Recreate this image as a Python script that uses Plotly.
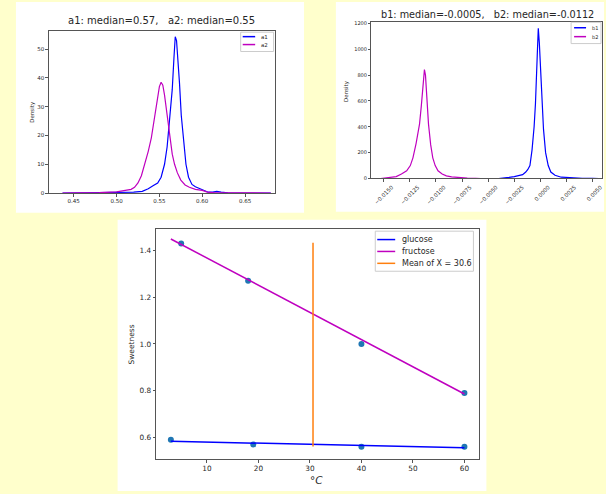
import plotly.graph_objects as go

W, H = 606, 494
BG = "#FFFFCC"
FONT = "DejaVu Sans"
TXT = "#262626"

# ---------------- Panel A (KDE of a1, a2) ----------------
a1_x = [0.437, 0.47, 0.50, 0.52, 0.53, 0.537, 0.543, 0.548, 0.552, 0.556, 0.559, 0.562,
        0.565, 0.567, 0.5685, 0.570, 0.572, 0.5735, 0.5755, 0.578, 0.581, 0.584, 0.588,
        0.592, 0.597, 0.602, 0.607, 0.612, 0.617, 0.622, 0.63, 0.65, 0.68]
a1_y = [0, 0.05, 0.1, 0.3, 0.6, 1.5, 2.6, 3.5, 5.5, 10, 16, 25,
        36, 47, 54.3, 53, 46, 38, 27, 18, 10, 5.5, 3,
        2.2, 1.6, 1.0, 0.3, 0.3, 0.6, 0.3, 0.1, 0.02, 0]
a2_x = [0.437, 0.46, 0.48, 0.50, 0.51, 0.517, 0.521, 0.525, 0.529, 0.533, 0.537, 0.5406,
        0.544, 0.547, 0.550, 0.552, 0.554, 0.556, 0.559, 0.5619, 0.565, 0.5677, 0.571,
        0.575, 0.580, 0.585, 0.592, 0.600, 0.606, 0.615, 0.63, 0.66, 0.68]
a2_y = [0, 0.05, 0.15, 0.4, 0.8, 1.3, 2, 3.5, 6, 10, 14.5, 19.2,
        26, 32, 37, 38.5, 37.5, 34, 27, 19.2, 13.5, 10, 7,
        4.5, 2.8, 2, 1.3, 0.9, 0.3, 0.1, 0.03, 0, 0]
a_title = "a1: median=0.57,   a2: median=0.55"
a_labels = ["a1", "a2"]
a_xticks = [0.45, 0.50, 0.55, 0.60, 0.65]
a_xticktext = ["0.45", "0.50", "0.55", "0.60", "0.65"]
a_yticks = [0, 10, 20, 30, 40, 50]

# ---------------- Panel B (KDE of b1, b2) ----------------
b1_x = [-0.0040, -0.0035, -0.0030, -0.0025, -0.0021, -0.0017, -0.0014, -0.0012, -0.0010,
        -0.0008, -0.0006, -0.00047, -0.0003, -0.0002, -0.0001, 0.00005, 0.00017, 0.0003,
        0.0005, 0.00075, 0.001, 0.0014, 0.002, 0.003, 0.004, 0.005, 0.0056]
b1_y = [0, 3, 8, 15, 20, 30, 50, 70, 100,
        220, 400, 581, 950, 1162, 1050, 800, 581, 380,
        200, 100, 50, 25, 10, 4, 2, 1, 0]
b2_x = [-0.0153, -0.0145, -0.0138, -0.0133, -0.0128, -0.01245, -0.0122, -0.0119, -0.01175,
        -0.01157, -0.0114, -0.0112, -0.0111, -0.0110, -0.01085, -0.01071, -0.0105, -0.0103,
        -0.01007, -0.0098, -0.0094, -0.0090, -0.0085, -0.0078, -0.0070, -0.0062, -0.0057]
b2_y = [0, 5, 15, 35, 60, 100, 160, 270, 340,
        421, 560, 760, 843, 800, 620, 421, 260, 160,
        100, 60, 35, 20, 12, 6, 3, 1, 0]
b_title = "b1: median=-0.0005,   b2: median=-0.0112"
b_labels = ["b1", "b2"]
b_xticks = [-0.015, -0.0125, -0.01, -0.0075, -0.005, -0.0025, 0.0, 0.0025, 0.005]
b_xticktext = ["\u22120.0150", "\u22120.0125", "\u22120.0100", "\u22120.0075", "\u22120.0050",
               "\u22120.0025", "0.0000", "0.0025", "0.0050"]
b_yticks = [0, 200, 400, 600, 800, 1000, 1200]

# ---------------- Panel C (sweetness vs temperature) ----------------
fructose_t = [5, 18, 40, 60]
fructose_s = [1.43, 1.27, 1.00, 0.79]
glucose_t = [3, 19, 40, 60]
glucose_s = [0.59, 0.57, 0.56, 0.56]
fit_t = [3, 60]
fit_fructose = [1.449, 0.786]
fit_glucose = [0.584, 0.556]
mean_t = 30.6
mean_span = [0.562, 1.433]
c_labels = ["glucose", "fructose", "Mean of X = 30.6"]
c_xticks = [10, 20, 30, 40, 50, 60]
c_yticks = [0.6, 0.8, 1.0, 1.2, 1.4]
c_yticktext = ["0.6", "0.8", "1.0", "1.2", "1.4"]

BLUE = "#0000FF"
MAG = "#BF00BF"
ORANGE = "#FF7F0E"
DOT = "#1F77B4"


def fx(px):
    return px / W


def fy(py):
    return 1 - py / H


fig = go.Figure()

# Panel A traces
fig.add_trace(go.Scatter(x=a1_x, y=a1_y, mode="lines", line=dict(color=BLUE, width=1.2),
                         xaxis="x", yaxis="y", showlegend=False))
fig.add_trace(go.Scatter(x=a2_x, y=a2_y, mode="lines", line=dict(color=MAG, width=1.2),
                         xaxis="x", yaxis="y", showlegend=False))
# Panel B traces
fig.add_trace(go.Scatter(x=b1_x, y=b1_y, mode="lines", line=dict(color=BLUE, width=1.2),
                         xaxis="x2", yaxis="y2", showlegend=False))
fig.add_trace(go.Scatter(x=b2_x, y=b2_y, mode="lines", line=dict(color=MAG, width=1.2),
                         xaxis="x2", yaxis="y2", showlegend=False))
# Panel C traces
fig.add_trace(go.Scatter(x=fructose_t + glucose_t, y=fructose_s + glucose_s, mode="markers",
                         marker=dict(color=DOT, size=6), xaxis="x3", yaxis="y3", showlegend=False))
fig.add_trace(go.Scatter(x=fit_t, y=fit_glucose, mode="lines", line=dict(color=BLUE, width=1.5),
                         xaxis="x3", yaxis="y3", showlegend=False))
fig.add_trace(go.Scatter(x=fit_t, y=fit_fructose, mode="lines", line=dict(color=MAG, width=1.5),
                         xaxis="x3", yaxis="y3", showlegend=False))
fig.add_trace(go.Scatter(x=[mean_t, mean_t], y=mean_span, mode="lines",
                         line=dict(color=ORANGE, width=1.5),
                         xaxis="x3", yaxis="y3", showlegend=False))

shapes = []
annotations = []

# white panel backgrounds
for (x0, y0, x1, y1) in [(16, 0, 305, 213), (337, 0, 606, 212), (118, 220, 488, 494)]:
    shapes.append(dict(type="rect", xref="paper", yref="paper", x0=fx(x0), x1=fx(x1),
                       y0=fy(y1), y1=fy(y0), fillcolor="white", line=dict(width=0),
                       layer="below"))


def add_legend(box, entries, fsize):
    x0, y0, x1, y1 = box
    shapes.append(dict(type="rect", xref="paper", yref="paper", x0=fx(x0), x1=fx(x1),
                       y0=fy(y1), y1=fy(y0), fillcolor="white",
                       line=dict(color="#CCCCCC", width=1), layer="above"))
    for label, color, ypx, lx0, lx1, tx in entries:
        shapes.append(dict(type="line", xref="paper", yref="paper", x0=fx(lx0), x1=fx(lx1),
                           y0=fy(ypx), y1=fy(ypx), line=dict(color=color, width=1.5),
                           layer="above"))
        annotations.append(dict(text=label, xref="paper", yref="paper", x=fx(tx), y=fy(ypx),
                                xanchor="left", yanchor="middle", showarrow=False,
                                font=dict(family=FONT, size=fsize, color=TXT)))


add_legend((241.5, 30.5, 274.5, 50), [(a_labels[0], BLUE, 35, 243.5, 256, 260),
                                      (a_labels[1], MAG, 43, 243.5, 256, 260)], 5.5)
add_legend((573, 20.5, 603, 42), [(b_labels[0], BLUE, 26, 576, 588, 592),
                                  (b_labels[1], MAG, 35, 576, 588, 592)], 5)
add_legend((376.5, 231.5, 475, 272), [(c_labels[0], BLUE, 240, 378.5, 396.5, 401),
                                      (c_labels[1], MAG, 252, 378.5, 396.5, 401),
                                      (c_labels[2], ORANGE, 264, 378.5, 396.5, 401)], 8)

# titles and axis labels
annotations.append(dict(text=a_title, xref="paper", yref="paper", x=fx(162.5), y=fy(19),
                        xanchor="center", yanchor="middle", showarrow=False,
                        font=dict(family=FONT, size=10, color=TXT)))
annotations.append(dict(text=b_title, xref="paper", yref="paper", x=fx(489), y=fy(12.5),
                        xanchor="center", yanchor="middle", showarrow=False,
                        font=dict(family=FONT, size=9.7, color=TXT)))
annotations.append(dict(text="Density", xref="paper", yref="paper", x=fx(33), y=fy(111),
                        xanchor="center", yanchor="middle", showarrow=False, textangle=-90,
                        font=dict(family=FONT, size=5.5, color=TXT)))
annotations.append(dict(text="Density", xref="paper", yref="paper", x=fx(347), y=fy(90),
                        xanchor="center", yanchor="middle", showarrow=False, textangle=-90,
                        font=dict(family=FONT, size=5.5, color=TXT)))
annotations.append(dict(text="Sweetness", xref="paper", yref="paper", x=fx(131.5), y=fy(346),
                        xanchor="center", yanchor="middle", showarrow=False, textangle=-90,
                        font=dict(family=FONT, size=7.5, color=TXT)))
annotations.append(dict(text="\u00b0<i>C</i>", xref="paper", yref="paper",
                        x=fx(318), y=fy(483), xanchor="center", yanchor="middle",
                        showarrow=False, font=dict(family=FONT, size=10.5, color=TXT)))

axcommon = dict(showgrid=False, zeroline=False, showline=True, linecolor="#555555",
                linewidth=1, mirror=True, ticks="outside", tickcolor="#555555", ticklen=2.5,
                tickwidth=0.8)

fig.update_layout(
    width=W, height=H,
    margin=dict(l=0, r=0, t=0, b=0),
    paper_bgcolor=BG, plot_bgcolor="white",
    showlegend=False,
    shapes=shapes, annotations=annotations,
    xaxis=dict(domain=[fx(49), fx(276)], anchor="y", range=[0.421, 0.685],
               tickvals=a_xticks, ticktext=a_xticktext,
               tickfont=dict(family=FONT, size=5.5, color=TXT), **axcommon),
    yaxis=dict(domain=[fy(193), fy(29)], anchor="x", range=[0, 56.4], tickvals=a_yticks,
               tickfont=dict(family=FONT, size=5.5, color=TXT), **axcommon),
    xaxis2=dict(domain=[fx(372.7), fx(604)], anchor="y2", range=[-0.01617, 0.0059],
                tickvals=b_xticks, ticktext=b_xticktext, tickangle=-45, ticklabelshift=8,
                tickfont=dict(family=FONT, size=5.5, color=TXT), **axcommon),
    yaxis2=dict(domain=[fy(178.3), fy(20)], anchor="x2", range=[0, 1213], tickvals=b_yticks,
                tickfont=dict(family=FONT, size=5, color=TXT), **axcommon),
    xaxis3=dict(domain=[fx(156.7), fx(480.7)], anchor="y3", range=[0.15, 62.85],
                tickvals=c_xticks, tickfont=dict(family=FONT, size=7.3, color=TXT), **axcommon),
    yaxis3=dict(domain=[fy(461.7), fy(229)], anchor="x3", range=[0.508, 1.493],
                tickvals=c_yticks, ticktext=c_yticktext,
                tickfont=dict(family=FONT, size=7.3, color=TXT), **axcommon),
)

fig.write_html("out.html",
               config={"displayModeBar": False},
               post_script="document.body.style.margin='0px';"
                           "document.body.style.overflow='hidden';"
                           "document.body.style.background='" + BG + "';")
